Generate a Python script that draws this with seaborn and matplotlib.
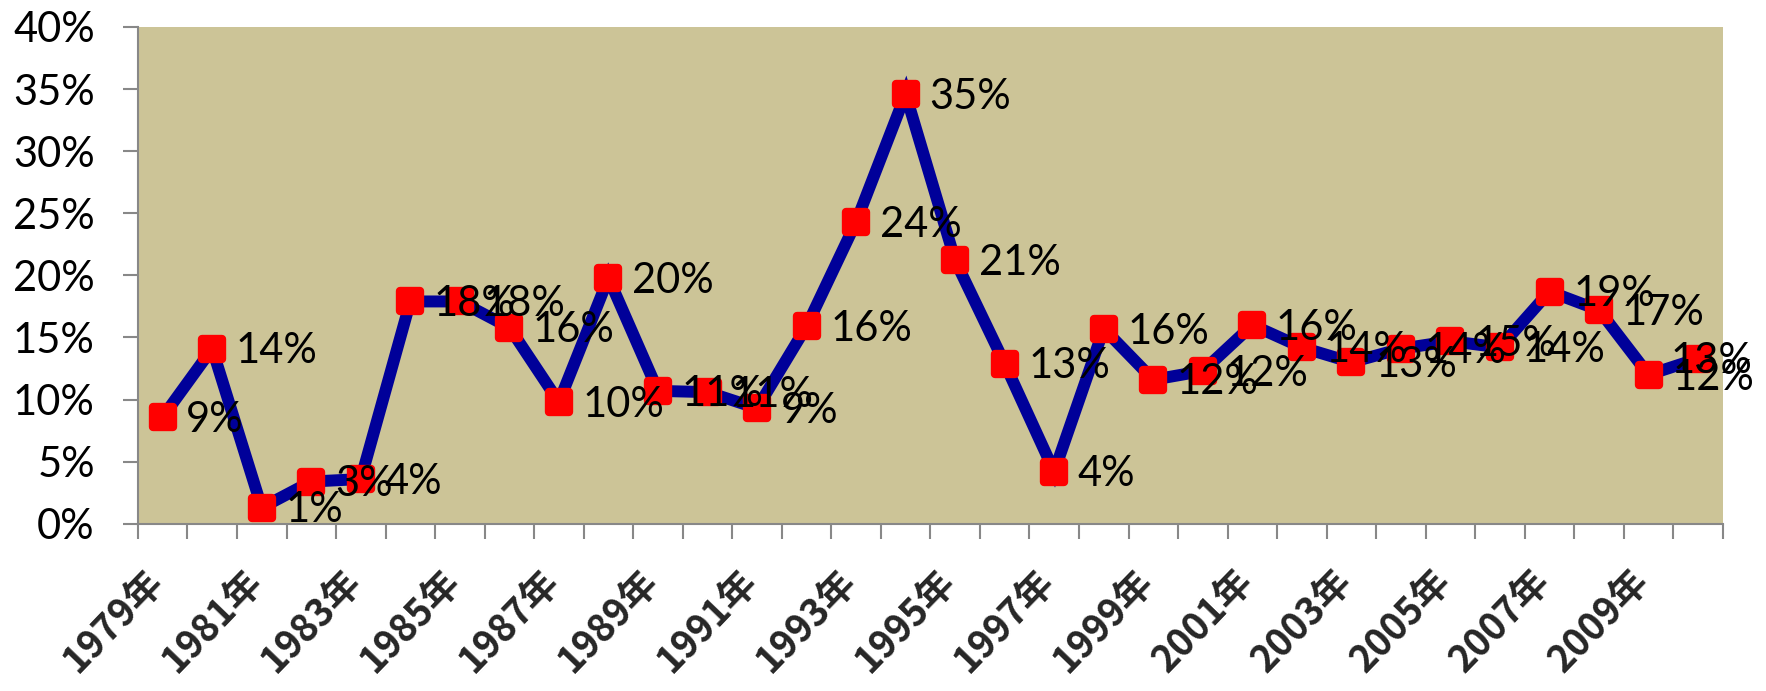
import matplotlib
matplotlib.use("Agg")
import matplotlib.pyplot as plt
import matplotlib.transforms as mtransforms
from matplotlib.markers import MarkerStyle
from matplotlib.ticker import FixedLocator, FuncFormatter
import numpy as np
import pandas as pd
import seaborn as sns

years = [1979, 1980, 1981, 1982, 1983, 1984, 1985, 1986, 1987, 1988, 1989,
         1990, 1991, 1992, 1993, 1994, 1995, 1996, 1997, 1998, 1999, 2000,
         2001, 2002, 2003, 2004, 2005, 2006, 2007, 2008, 2009, 2010]
growth_pct = [8.6, 14.1, 1.3, 3.4, 3.6, 17.9, 17.9, 15.8, 9.8, 19.8, 10.7,
              10.6, 9.3, 15.9, 24.3, 34.6, 21.2, 12.9, 4.2, 15.7, 11.6, 12.3,
              16.0, 14.2, 13.0, 14.1, 14.7, 14.2, 18.7, 17.2, 12.0, 13.3]
year_labels = [f"{y}年" for y in years]
y_ticks = [0, 0.05, 0.10, 0.15, 0.20, 0.25, 0.30, 0.35, 0.40]

df = pd.DataFrame({
    "idx": np.arange(len(years)),
    "label": year_labels,
    "value": np.array(growth_pct) / 100.0,
})

sns.set_theme(style="white")
plt.rcParams['font.family'] = ['Lato', 'Noto Sans CJK SC', 'DejaVu Sans']

fig = plt.figure(figsize=(17.66, 6.91), dpi=100)
ax = fig.add_axes([0.0781, 0.242, 0.8975, 0.719])
ax.set_facecolor("#CCC497")

marker = MarkerStyle("s", joinstyle="round")
sns.lineplot(data=df, x="idx", y="value", ax=ax, color="#000099",
             linewidth=8.6, marker=marker, markersize=15,
             markerfacecolor="#FF0000", markeredgecolor="#FF0000",
             markeredgewidth=6, solid_joinstyle="miter", zorder=3)

n = len(df)
for i, v in zip(df["idx"], df["value"]):
    dx = -20 if i == n - 1 else 17
    ax.annotate(f"{v*100:.0f}%", (i, v), xytext=(dx, -2),
                textcoords="offset points", ha="left", va="center",
                fontsize=30, color="black", zorder=4, annotation_clip=False)

ax.set_xlim(-0.5, n - 0.5)
ax.set_ylim(0, 0.40)
ax.yaxis.set_major_locator(FixedLocator(y_ticks))
ax.yaxis.set_major_formatter(FuncFormatter(lambda v, p: f"{v*100:.0f}%"))
ax.tick_params(axis="y", which="major", left=True, length=11, width=1.5,
               color="#888888", labelsize=30, pad=20, labelcolor="black")

major_pos = df["idx"].values[::2]
ax.set_xticks(major_pos)
ax.set_xticklabels(year_labels[::2], rotation=46, ha="right",
                   va="top", rotation_mode="anchor", fontsize=27,
                   fontweight="bold",
                   family=['Noto Sans CJK SC', 'DejaVu Sans'])
ax.set_xticks(np.arange(-0.5, n + 0.5, 1.0), minor=True)
ax.tick_params(axis="x", which="major", length=0, pad=27)
ax.tick_params(axis="x", which="minor", bottom=True, length=11, width=1.5,
               color="#888888")
shift = mtransforms.ScaledTranslation(-20 / 100, 0, fig.dpi_scale_trans)
for lbl in ax.get_xticklabels():
    lbl.set_transform(lbl.get_transform() + shift)
ax.set_xlabel("")
ax.set_ylabel("")

for s in ["top", "right"]:
    ax.spines[s].set_visible(False)
for s in ["left", "bottom"]:
    ax.spines[s].set_color("#888888")
    ax.spines[s].set_linewidth(1.5)

fig.savefig("out.png", dpi=100, facecolor="white")
